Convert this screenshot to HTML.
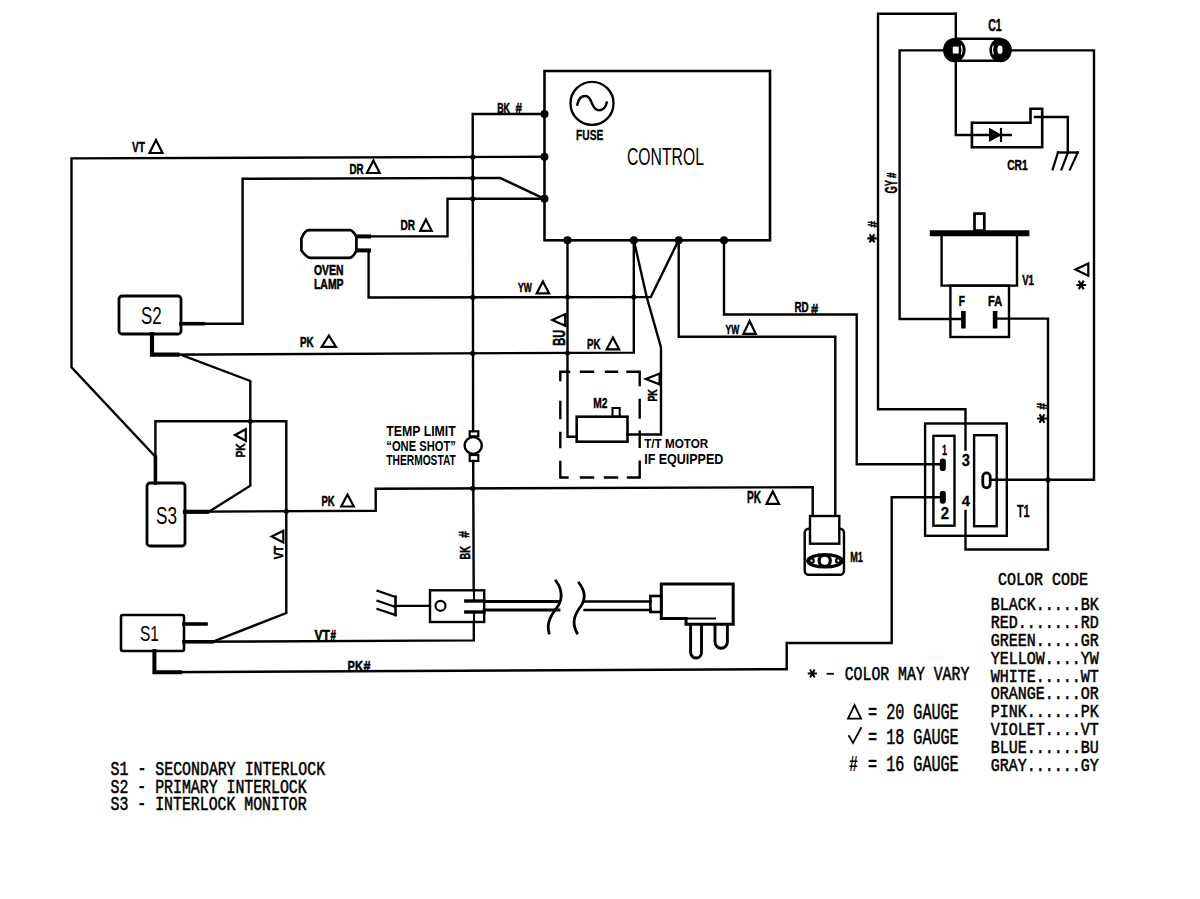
<!DOCTYPE html>
<html><head><meta charset="utf-8"><style>
html,body{margin:0;padding:0;background:#fff;width:1200px;height:899px;overflow:hidden;}
svg{display:block;}
text{fill:#000;}
</style></head><body>
<svg width="1200" height="899" viewBox="0 0 1200 899">
<rect width="1200" height="899" fill="#fff"/>
<path d="M544.5,156.8 L71.5,158.4 V367.4 L155.4,456.8 V483" fill="none" stroke="#000" stroke-width="2.4" stroke-linejoin="miter" stroke-linecap="square" />
<path d="M155.4,457 V483" fill="none" stroke="#000" stroke-width="3.6" stroke-linejoin="miter" stroke-linecap="square" />
<path d="M181,323.7 H242.6 V178.8 L500,177.9 L544.5,198.8" fill="none" stroke="#000" stroke-width="2.4" stroke-linejoin="miter" stroke-linecap="square" />
<path d="M181,323.7 H203" fill="none" stroke="#000" stroke-width="3.6" stroke-linejoin="miter" stroke-linecap="square" />
<path d="M152,334 V354.7 L633.8,352.6 V240" fill="none" stroke="#000" stroke-width="2.4" stroke-linejoin="miter" stroke-linecap="square" />
<path d="M152,334 V354.7 H177.5" fill="none" stroke="#000" stroke-width="4.2" stroke-linejoin="miter" stroke-linecap="square" />
<path d="M183,355.5 L250.3,381 V485.7 L209,511.7" fill="none" stroke="#000" stroke-width="2.4" stroke-linejoin="miter" stroke-linecap="square" />
<path d="M155.4,457 V421.2 H286.3 V613 L213.6,641.5" fill="none" stroke="#000" stroke-width="2.4" stroke-linejoin="miter" stroke-linecap="square" />
<path d="M185,511.8 L375.7,510.7 V488.7 L812.7,487.2 V516" fill="none" stroke="#000" stroke-width="2.4" stroke-linejoin="miter" stroke-linecap="square" />
<path d="M185,511.8 H207" fill="none" stroke="#000" stroke-width="4.2" stroke-linejoin="miter" stroke-linecap="square" />
<path d="M184,624 H206" fill="none" stroke="#000" stroke-width="3.6" stroke-linejoin="miter" stroke-linecap="square" />
<path d="M184,641.8 L473.8,640.4 V622" fill="none" stroke="#000" stroke-width="2.4" stroke-linejoin="miter" stroke-linecap="square" />
<path d="M184,641.8 H212" fill="none" stroke="#000" stroke-width="3.6" stroke-linejoin="miter" stroke-linecap="square" />
<path d="M154.4,651 V672.2 L786.7,669.2 V643 H891.7 V497.2 H942" fill="none" stroke="#000" stroke-width="2.4" stroke-linejoin="miter" stroke-linecap="square" />
<path d="M154.4,651 V672.2 H180" fill="none" stroke="#000" stroke-width="4" stroke-linejoin="miter" stroke-linecap="square" />
<path d="M357,236.4 H447.5 V198.8 H544.5" fill="none" stroke="#000" stroke-width="2.4" stroke-linejoin="miter" stroke-linecap="square" />
<path d="M357,236.4 H369" fill="none" stroke="#000" stroke-width="4" stroke-linejoin="miter" stroke-linecap="square" />
<path d="M357,250.4 H368.6 V297.5 L650.8,297 L678.7,240" fill="none" stroke="#000" stroke-width="2.4" stroke-linejoin="miter" stroke-linecap="square" />
<path d="M357,250.4 H369" fill="none" stroke="#000" stroke-width="4" stroke-linejoin="miter" stroke-linecap="square" />
<path d="M544.5,114 H472.7 L473.1,431" fill="none" stroke="#000" stroke-width="2.4" stroke-linejoin="miter" stroke-linecap="square" />
<path d="M473.2,461 L473.7,590" fill="none" stroke="#000" stroke-width="2.4" stroke-linejoin="miter" stroke-linecap="square" />
<path d="M567.5,240 V436.7 H576.7" fill="none" stroke="#000" stroke-width="2.4" stroke-linejoin="miter" stroke-linecap="square" />
<path d="M633.8,240 L646.7,297 L661,347.3 V434.5 H627.5" fill="none" stroke="#000" stroke-width="2.4" stroke-linejoin="miter" stroke-linecap="square" />
<path d="M678.7,240 V336.7 H835.3 V516" fill="none" stroke="#000" stroke-width="2.4" stroke-linejoin="miter" stroke-linecap="square" />
<path d="M724,240 V314.5 H856.7 V464.3 H942" fill="none" stroke="#000" stroke-width="2.4" stroke-linejoin="miter" stroke-linecap="square" />
<rect x="544.5" y="71" width="225.5" height="169.3" fill="none" stroke="#000" stroke-width="2.6"/>
<circle cx="544.5" cy="114" r="4" fill="#000"/>
<circle cx="544.5" cy="156.8" r="4" fill="#000"/>
<circle cx="544.5" cy="198.8" r="4" fill="#000"/>
<circle cx="567.5" cy="240.3" r="4" fill="#000"/>
<circle cx="633.8" cy="240.3" r="4" fill="#000"/>
<circle cx="678.7" cy="240.3" r="4" fill="#000"/>
<circle cx="724" cy="240.3" r="4" fill="#000"/>
<circle cx="472.8" cy="157.05" r="2.6" fill="#000"/>
<circle cx="472.8" cy="178.0" r="2.6" fill="#000"/>
<circle cx="472.8" cy="198.8" r="2.6" fill="#000"/>
<circle cx="472.8" cy="297.3" r="2.6" fill="#000"/>
<circle cx="472.8" cy="353.3" r="2.6" fill="#000"/>
<circle cx="472.8" cy="488.4" r="2.6" fill="#000"/>
<circle cx="567.5" cy="297.1" r="2.5" fill="#000"/>
<circle cx="567.5" cy="352.9" r="2.5" fill="#000"/>
<circle cx="633.8" cy="297" r="2.5" fill="#000"/>
<circle cx="250.3" cy="421.2" r="2.5" fill="#000"/>
<circle cx="286.3" cy="511.2" r="2.5" fill="#000"/>
<circle cx="1048" cy="479.8" r="2.6" fill="#000"/>
<circle cx="592" cy="103.4" r="21.5" fill="none" stroke="#000" stroke-width="2.4"/>
<path d="M577.3,104.5 C578.5,98 582,96 585.5,96 C589.5,96 590.5,100 592,103.5 C593.5,107 595,110.3 599,110.3 C603,110.3 606,107 606.7,102.5" fill="none" stroke="#000" stroke-width="2.4" stroke-linejoin="miter" stroke-linecap="square" stroke-linecap="round"/>
<text x="576.0" y="139.5" font-size="14.53" font-weight="bold" font-family="Liberation Sans" textLength="27.3" lengthAdjust="spacingAndGlyphs" stroke="#000" stroke-width="0.3">FUSE</text>
<text x="627.0" y="165.0" font-size="23.26" font-weight="normal" font-family="Liberation Sans" textLength="77.0" lengthAdjust="spacingAndGlyphs" >CONTROL</text>
<path d="M309,230.2 H350 Q352.5,230.2 356.4,236.5 V250.5 Q353,257.9 349,257.9 H310.5 Q307,257.9 301.4,250.5 V238.5 Q305,230.2 309,230.2 Z" fill="none" stroke="#000" stroke-width="2.7" stroke-linejoin="round"/>
<text x="314.0" y="274.7" font-size="15.26" font-weight="bold" font-family="Liberation Sans" textLength="29.5" lengthAdjust="spacingAndGlyphs" stroke="#000" stroke-width="0.6">OVEN</text>
<text x="314.0" y="289.0" font-size="15.26" font-weight="bold" font-family="Liberation Sans" textLength="29.5" lengthAdjust="spacingAndGlyphs" stroke="#000" stroke-width="0.6">LAMP</text>
<rect x="119" y="296" width="62" height="38" rx="3" fill="none" stroke="#000" stroke-width="2.8"/>
<text x="141.0" y="323.7" font-size="23.55" font-weight="normal" font-family="Liberation Sans" textLength="20.7" lengthAdjust="spacingAndGlyphs" >S2</text>
<rect x="147" y="483" width="38" height="63" rx="3" fill="none" stroke="#000" stroke-width="2.8"/>
<text x="156.0" y="524.0" font-size="23.26" font-weight="normal" font-family="Liberation Sans" textLength="21.0" lengthAdjust="spacingAndGlyphs" >S3</text>
<rect x="121" y="615" width="63" height="36" rx="2" fill="none" stroke="#000" stroke-width="2.6"/>
<text x="140.0" y="640.7" font-size="22.82" font-weight="normal" font-family="Liberation Sans" textLength="19.0" lengthAdjust="spacingAndGlyphs" >S1</text>
<rect x="469.7" y="431.3" width="8.6" height="5" fill="none" stroke="#000" stroke-width="2.2"/>
<ellipse cx="473.2" cy="445.5" rx="8.6" ry="8.4" fill="none" stroke="#000" stroke-width="2.4"/>
<rect x="469.7" y="455" width="8.6" height="6" fill="none" stroke="#000" stroke-width="2.2"/>
<text x="386.3" y="435.8" font-size="14.24" font-weight="bold" font-family="Liberation Sans" textLength="69.5" lengthAdjust="spacingAndGlyphs" >TEMP LIMIT</text>
<text x="386.3" y="450.8" font-size="14.24" font-weight="bold" font-family="Liberation Sans" textLength="69.5" lengthAdjust="spacingAndGlyphs" >&#8220;ONE SHOT&#8221;</text>
<text x="386.3" y="465.0" font-size="13.81" font-weight="bold" font-family="Liberation Sans" textLength="69.5" lengthAdjust="spacingAndGlyphs" >THERMOSTAT</text>
<path d="M560.3,380 V371.7 H569 M581,371.7 H593 M606,371.7 H617 M627.5,371.7 H639.7 V385 M560.3,402 V418 M560.3,433 V447 M560.3,462 V477.5 H567.5 M581,477.5 H593 M605,477.5 H617 M628,477.5 H639.7 V461.7 M639.7,400 V417.5 M639.7,431.7 V446.7" fill="none" stroke="#000" stroke-width="2.4" stroke-linejoin="miter" stroke-linecap="square" stroke-linecap="butt"/>
<rect x="576.7" y="416.7" width="50.8" height="25" fill="none" stroke="#000" stroke-width="2.6"/>
<rect x="612.5" y="408" width="7.2" height="8.7" fill="none" stroke="#000" stroke-width="2"/>
<text x="593.3" y="408.3" font-size="14.97" font-weight="bold" font-family="Liberation Sans" textLength="14.2" lengthAdjust="spacingAndGlyphs" stroke="#000" stroke-width="0.4">M2</text>
<text x="644.2" y="447.5" font-size="13.37" font-weight="bold" font-family="Liberation Sans" textLength="64.1" lengthAdjust="spacingAndGlyphs" >T/T MOTOR</text>
<text x="644.2" y="464.2" font-size="14.53" font-weight="bold" font-family="Liberation Sans" textLength="79.1" lengthAdjust="spacingAndGlyphs" >IF EQUIPPED</text>
<rect x="430" y="590.3" width="54.2" height="31.7" fill="none" stroke="#000" stroke-width="2.4"/>
<path d="M474,590.3 V601 M474,612 V622" fill="none" stroke="#000" stroke-width="2" stroke-linejoin="miter" stroke-linecap="square" stroke-linecap="butt"/>
<circle cx="440.5" cy="605.8" r="5" fill="none" stroke="#000" stroke-width="2.2"/>
<path d="M465.8,601 H484" fill="none" stroke="#000" stroke-width="3.4" stroke-linejoin="miter" stroke-linecap="square" />
<path d="M465.8,612 H484" fill="none" stroke="#000" stroke-width="3.4" stroke-linejoin="miter" stroke-linecap="square" />
<path d="M484,601.5 H559 M484,610 H559" fill="none" stroke="#000" stroke-width="2.8" stroke-linejoin="miter" stroke-linecap="square" stroke-linecap="butt"/>
<path d="M584.6,601.5 H650.4 M584.6,610 H650.4" fill="none" stroke="#000" stroke-width="2.6" stroke-linejoin="miter" stroke-linecap="square" stroke-linecap="butt"/>
<path d="M556,581 C563,590 562,600 558,606 C552,614 546,622 549,633" fill="none" stroke="#000" stroke-width="2.8" stroke-linejoin="miter" stroke-linecap="square" stroke-linecap="round"/>
<path d="M579,583 C586,592 585,600 581,606 C575,614 571,622 577,633" fill="none" stroke="#000" stroke-width="2.8" stroke-linejoin="miter" stroke-linecap="square" stroke-linecap="round"/>
<rect x="650.4" y="596" width="10.9" height="16" fill="none" stroke="#000" stroke-width="2.6"/>
<path d="M661.3,584 H733.2 V624.2 H686 V618.5 H661.3 Z" fill="none" stroke="#000" stroke-width="3"/>
<path d="M686,618.5 H715" fill="none" stroke="#000" stroke-width="2.2" stroke-linejoin="miter" stroke-linecap="square" />
<path d="M690.6,624 V652.5 A5.45,5.45 0 0 0 701.5,652.5 V624" fill="none" stroke="#000" stroke-width="2.9"/>
<path d="M715,624 V642 A6.2,6.2 0 0 0 727.4,642 V624" fill="none" stroke="#000" stroke-width="2.9"/>
<path d="M395.5,605.8 H430" fill="none" stroke="#000" stroke-width="2.2" stroke-linejoin="miter" stroke-linecap="square" />
<path d="M395.5,596.7 V615" fill="none" stroke="#000" stroke-width="2.6" stroke-linejoin="miter" stroke-linecap="square" />
<path d="M377.5,590.8 L395.5,597 M377.5,600.8 L395.5,607 M377.5,609 L395.5,615" fill="none" stroke="#000" stroke-width="2.2" stroke-linejoin="miter" stroke-linecap="square" />
<rect x="804.7" y="528.7" width="39.3" height="46" rx="4" fill="none" stroke="#000" stroke-width="2.4"/>
<rect x="810" y="516" width="29.3" height="27.7" fill="#fff" stroke="#000" stroke-width="2.4"/>
<ellipse cx="825" cy="560.8" rx="17.3" ry="6.2" fill="none" stroke="#000" stroke-width="3.2"/>
<circle cx="824.7" cy="560.7" r="5.6" fill="#fff" stroke="#000" stroke-width="3.2"/>
<circle cx="811.5" cy="560.7" r="2.2" fill="none" stroke="#000" stroke-width="2.2"/>
<circle cx="838.3" cy="560.7" r="2.2" fill="none" stroke="#000" stroke-width="2.2"/>
<text x="850.2" y="561.7" font-size="15.55" font-weight="bold" font-family="Liberation Sans" textLength="12.7" lengthAdjust="spacingAndGlyphs" stroke="#000" stroke-width="0.4">M1</text>
<path d="M955.8,13.75 H878 V409.3 H965.5 V449.5" fill="none" stroke="#000" stroke-width="2.4" stroke-linejoin="miter" stroke-linecap="square" />
<path d="M943.75,50.4 H899.6 V319 H963" fill="none" stroke="#000" stroke-width="2.4" stroke-linejoin="miter" stroke-linecap="square" />
<path d="M1011.7,50.4 H1094 V479.8 H990" fill="none" stroke="#000" stroke-width="2.4" stroke-linejoin="miter" stroke-linecap="square" />
<path d="M995,318.6 H1048 V549.5 H965.5 V511" fill="none" stroke="#000" stroke-width="2.4" stroke-linejoin="miter" stroke-linecap="square" />
<path d="M955.8,62 V135 H1010.7" fill="none" stroke="#000" stroke-width="2.4" stroke-linejoin="miter" stroke-linecap="square" />
<path d="M955.8,13.75 V40" fill="none" stroke="#000" stroke-width="2.4" stroke-linejoin="miter" stroke-linecap="square" />
<path d="M954.6,38.75 H1000.8 M954.6,60.8 H1000.8" stroke="#000" stroke-width="2.4"/>
<ellipse cx="954.3" cy="50.1" rx="11.3" ry="12.2" fill="#000"/>
<rect x="952.8" y="46.6" width="5.9" height="6.9" fill="#fff"/>
<path d="M961.2,45.5 Q963,50 961.2,54.5" fill="none" stroke="#fff" stroke-width="1.1"/>
<ellipse cx="1000.6" cy="50.1" rx="11.2" ry="12.2" fill="#000"/>
<ellipse cx="1000" cy="49.8" rx="2.6" ry="4.3" fill="#fff"/>
<path d="M993.4,45.5 Q991.6,50 993.4,54.5" fill="none" stroke="#fff" stroke-width="1.1"/>
<text x="988.3" y="30.8" font-size="16.28" font-weight="bold" font-family="Liberation Sans" textLength="13.4" lengthAdjust="spacingAndGlyphs" stroke="#000" stroke-width="0.5">C1</text>
<path d="M971.9,122.75 H1030.5 V108.75 H1042.2 V147.3 H971.9 Z" fill="none" stroke="#000" stroke-width="2.6"/>
<path d="M1035,117 H1067.8 V152.5" fill="none" stroke="#000" stroke-width="2.4" stroke-linejoin="miter" stroke-linecap="square" />
<path d="M1058,152.5 H1077.8" fill="none" stroke="#000" stroke-width="2.4" stroke-linejoin="miter" stroke-linecap="square" />
<path d="M1058,152.5 L1052.7,169.4 M1068,152.5 L1061.5,169.4 M1077.8,152.5 L1070,169.4" fill="none" stroke="#000" stroke-width="2.2" stroke-linejoin="miter" stroke-linecap="square" />
<path d="M989.7,129 L1000.2,135 L989.7,140.8 Z" fill="#000" stroke="#000" stroke-width="1.5"/>
<path d="M1001,129 V141" fill="none" stroke="#000" stroke-width="2.2" stroke-linejoin="miter" stroke-linecap="square" />
<text x="1007.2" y="170.0" font-size="15.26" font-weight="bold" font-family="Liberation Sans" textLength="20.4" lengthAdjust="spacingAndGlyphs" stroke="#000" stroke-width="0.5">CR1</text>
<rect x="974.5" y="213.6" width="9.8" height="17" fill="none" stroke="#000" stroke-width="2.7"/>
<path d="M932.8,233.2 H1026.4" fill="none" stroke="#000" stroke-width="6" stroke-linejoin="miter" stroke-linecap="square" stroke-linecap="butt"/>
<path d="M941.6,233 V285.6 H1017 V233" fill="none" stroke="#000" stroke-width="2.4"/>
<rect x="950.4" y="285.6" width="58.6" height="51.4" fill="none" stroke="#000" stroke-width="2.4"/>
<path d="M963.4,313.2 V326.2" fill="none" stroke="#000" stroke-width="4.6" stroke-linejoin="miter" stroke-linecap="square" stroke-linecap="butt"/>
<path d="M995.1,313.2 V326.2" fill="none" stroke="#000" stroke-width="4.6" stroke-linejoin="miter" stroke-linecap="square" stroke-linecap="butt"/>
<text x="958.8" y="305.5" font-size="14.53" font-weight="bold" font-family="Liberation Sans" textLength="6.2" lengthAdjust="spacingAndGlyphs" stroke="#000" stroke-width="0.5">F</text>
<text x="988.1" y="305.5" font-size="14.53" font-weight="bold" font-family="Liberation Sans" textLength="14.0" lengthAdjust="spacingAndGlyphs" stroke="#000" stroke-width="0.5">FA</text>
<text x="1022.2" y="285.1" font-size="14.68" font-weight="bold" font-family="Liberation Sans" textLength="11.8" lengthAdjust="spacingAndGlyphs" stroke="#000" stroke-width="0.5">V1</text>
<rect x="925.1" y="423.5" width="81.7" height="112.3" fill="none" stroke="#000" stroke-width="2.4"/>
<rect x="933.4" y="435.8" width="21.1" height="89.9" fill="none" stroke="#000" stroke-width="2.4"/>
<rect x="974.1" y="435.2" width="22.6" height="91" fill="none" stroke="#000" stroke-width="2.4"/>
<rect x="939.8" y="458.5" width="6" height="12.5" rx="2.8" fill="#000"/>
<rect x="939.8" y="490.8" width="6" height="13" rx="2.8" fill="#000"/>
<rect x="982.8" y="472.8" width="7.4" height="15" rx="3.7" fill="#fff" stroke="#000" stroke-width="2.8"/>
<text x="942.0" y="455.0" font-size="14.53" font-weight="bold" font-family="Liberation Sans" textLength="5.0" lengthAdjust="spacingAndGlyphs" stroke="#000" stroke-width="0.3">1</text>
<text x="940.7" y="519.3" font-size="15.99" font-weight="bold" font-family="Liberation Sans" textLength="8.3" lengthAdjust="spacingAndGlyphs" stroke="#000" stroke-width="0.3">2</text>
<text x="961.8" y="466.0" font-size="15.99" font-weight="bold" font-family="Liberation Sans" textLength="8.2" lengthAdjust="spacingAndGlyphs" stroke="#000" stroke-width="0.3">3</text>
<text x="961.8" y="505.5" font-size="14.68" font-weight="bold" font-family="Liberation Sans" textLength="8.2" lengthAdjust="spacingAndGlyphs" stroke="#000" stroke-width="0.3">4</text>
<text x="1016.9" y="517.4" font-size="15.99" font-weight="bold" font-family="Liberation Sans" textLength="12.8" lengthAdjust="spacingAndGlyphs" stroke="#000" stroke-width="0.3">T1</text>
<text x="132.0" y="151.5" font-size="15.26" font-weight="bold" font-family="Liberation Sans" textLength="13.0" lengthAdjust="spacingAndGlyphs" stroke="#000" stroke-width="0.5">VT</text>
<path d="M156.0,140.0 L162.5,153.0 L149.5,153.0 Z" fill="none" stroke="#000" stroke-width="2.2" stroke-linejoin="miter"/>
<text x="349.5" y="174.0" font-size="15.26" font-weight="bold" font-family="Liberation Sans" textLength="14.1" lengthAdjust="spacingAndGlyphs" stroke="#000" stroke-width="0.5">DR</text>
<path d="M373.4,160.5 L379.7,173.0 L367.0,173.0 Z" fill="none" stroke="#000" stroke-width="2.2" stroke-linejoin="miter"/>
<text x="400.5" y="230.0" font-size="15.26" font-weight="bold" font-family="Liberation Sans" textLength="14.6" lengthAdjust="spacingAndGlyphs" stroke="#000" stroke-width="0.5">DR</text>
<path d="M425.9,219.5 L431.7,230.8 L420.2,230.8 Z" fill="none" stroke="#000" stroke-width="2.2" stroke-linejoin="miter"/>
<text x="497.2" y="112.5" font-size="14.53" font-weight="bold" font-family="Liberation Sans" textLength="12.8" lengthAdjust="spacingAndGlyphs" stroke="#000" stroke-width="0.5">BK</text>
<text x="515.5" y="113.0" font-size="15.26" font-weight="bold" font-family="Liberation Sans" textLength="6.5" lengthAdjust="spacingAndGlyphs" stroke="#000" stroke-width="0.5">#</text>
<text x="300.0" y="346.7" font-size="14.10" font-weight="bold" font-family="Liberation Sans" textLength="13.7" lengthAdjust="spacingAndGlyphs" stroke="#000" stroke-width="0.5">PK</text>
<path d="M328.9,335.5 L336.0,346.8 L321.7,346.8 Z" fill="none" stroke="#000" stroke-width="2.2" stroke-linejoin="miter"/>
<text x="518.0" y="292.3" font-size="12.79" font-weight="bold" font-family="Liberation Sans" textLength="13.8" lengthAdjust="spacingAndGlyphs" stroke="#000" stroke-width="0.5">YW</text>
<path d="M542.9,281.5 L549.1,293.4 L536.7,293.4 Z" fill="none" stroke="#000" stroke-width="2.2" stroke-linejoin="miter"/>
<text x="587.1" y="349.0" font-size="15.26" font-weight="bold" font-family="Liberation Sans" textLength="13.4" lengthAdjust="spacingAndGlyphs" stroke="#000" stroke-width="0.5">PK</text>
<path d="M612.9,337.5 L619.1,349.3 L606.7,349.3 Z" fill="none" stroke="#000" stroke-width="2.2" stroke-linejoin="miter"/>
<text x="321.5" y="505.7" font-size="14.83" font-weight="bold" font-family="Liberation Sans" textLength="13.2" lengthAdjust="spacingAndGlyphs" stroke="#000" stroke-width="0.5">PK</text>
<path d="M347.5,494.5 L353.8,506.5 L341.2,506.5 Z" fill="none" stroke="#000" stroke-width="2.2" stroke-linejoin="miter"/>
<text x="725.6" y="333.5" font-size="13.23" font-weight="bold" font-family="Liberation Sans" textLength="13.7" lengthAdjust="spacingAndGlyphs" stroke="#000" stroke-width="0.5">YW</text>
<path d="M749.6,321.0 L755.8,333.8 L743.4,333.8 Z" fill="none" stroke="#000" stroke-width="2.2" stroke-linejoin="miter"/>
<text x="747.0" y="502.7" font-size="15.84" font-weight="bold" font-family="Liberation Sans" textLength="14.0" lengthAdjust="spacingAndGlyphs" stroke="#000" stroke-width="0.5">PK</text>
<path d="M772.8,491.5 L779.0,503.8 L766.5,503.8 Z" fill="none" stroke="#000" stroke-width="2.2" stroke-linejoin="miter"/>
<text x="794.4" y="312.0" font-size="14.68" font-weight="bold" font-family="Liberation Sans" textLength="14.2" lengthAdjust="spacingAndGlyphs" stroke="#000" stroke-width="0.5">RD</text>
<text x="811.0" y="314.0" font-size="14.24" font-weight="bold" font-family="Liberation Sans" textLength="7.2" lengthAdjust="spacingAndGlyphs" stroke="#000" stroke-width="0.5">#</text>
<text x="314.5" y="639.5" font-size="14.53" font-weight="bold" font-family="Liberation Sans" textLength="15.5" lengthAdjust="spacingAndGlyphs" stroke="#000" stroke-width="0.5">VT</text>
<text x="330.5" y="639.5" font-size="13.81" font-weight="bold" font-family="Liberation Sans" textLength="5.5" lengthAdjust="spacingAndGlyphs" stroke="#000" stroke-width="0.5">#</text>
<text x="347.5" y="670.5" font-size="14.53" font-weight="bold" font-family="Liberation Sans" textLength="15.5" lengthAdjust="spacingAndGlyphs" stroke="#000" stroke-width="0.5">PK</text>
<text x="363.5" y="670.5" font-size="13.81" font-weight="bold" font-family="Liberation Sans" textLength="7.0" lengthAdjust="spacingAndGlyphs" stroke="#000" stroke-width="0.5">#</text>
<text transform="translate(564.7,345.7) rotate(-90)" x="0" y="0" font-size="16.13" font-weight="bold" font-family="Liberation Sans" textLength="16.0" lengthAdjust="spacingAndGlyphs" stroke="#000" stroke-width="0.5">BU</text>
<path d="M552.3,319.9 L565.2,314.1 L565.2,325.7 Z" fill="none" stroke="#000" stroke-width="2.2"/>
<text transform="translate(657.4,401.6) rotate(-90)" x="0" y="0" font-size="13.66" font-weight="bold" font-family="Liberation Sans" textLength="12.4" lengthAdjust="spacingAndGlyphs" stroke="#000" stroke-width="0.5">PK</text>
<path d="M645.8,379.0 L659.6,373.6 L659.6,384.3 Z" fill="none" stroke="#000" stroke-width="2.2"/>
<text transform="translate(245.0,457.5) rotate(-90)" x="0" y="0" font-size="13.37" font-weight="bold" font-family="Liberation Sans" textLength="14.2" lengthAdjust="spacingAndGlyphs" stroke="#000" stroke-width="0.5">PK</text>
<path d="M235.0,435.0 L245.8,429.2 L245.8,440.8 Z" fill="none" stroke="#000" stroke-width="2.2"/>
<text transform="translate(282.5,559.2) rotate(-90)" x="0" y="0" font-size="13.37" font-weight="bold" font-family="Liberation Sans" textLength="13.4" lengthAdjust="spacingAndGlyphs" stroke="#000" stroke-width="0.5">VT</text>
<path d="M271.7,536.6 L283.3,530.8 L283.3,542.5 Z" fill="none" stroke="#000" stroke-width="2.2"/>
<text transform="translate(469.7,559.4) rotate(-90)" x="0" y="0" font-size="15.26" font-weight="bold" font-family="Liberation Sans" textLength="13.3" lengthAdjust="spacingAndGlyphs" stroke="#000" stroke-width="0.5">BK</text>
<text transform="translate(469.4,537.8) rotate(-90)" x="0" y="0" font-size="14.53" font-weight="bold" font-family="Liberation Sans" textLength="6.7" lengthAdjust="spacingAndGlyphs" stroke="#000" stroke-width="0.5">#</text>
<text transform="translate(896.5,193.5) rotate(-90)" x="0" y="0" font-size="15.99" font-weight="bold" font-family="Liberation Sans" textLength="13.5" lengthAdjust="spacingAndGlyphs" stroke="#000" stroke-width="0.5">GY</text>
<text transform="translate(896.0,178.0) rotate(-90)" x="0" y="0" font-size="13.08" font-weight="bold" font-family="Liberation Sans" textLength="5.5" lengthAdjust="spacingAndGlyphs" stroke="#000" stroke-width="0.5">#</text>
<text transform="translate(877.0,227.5) rotate(-90)" x="0" y="0" font-size="13.08" font-weight="bold" font-family="Liberation Sans" textLength="6.5" lengthAdjust="spacingAndGlyphs" stroke="#000" stroke-width="0.5">#</text>
<path d="M868.4,238.3 L875.6,238.3 M870.2,235.2 L873.8,241.4 M873.8,235.2 L870.2,241.4 " fill="none" stroke="#000" stroke-width="2.2" stroke-linejoin="miter" stroke-linecap="square" stroke-linecap="butt"/>
<path d="M1075.5,269.5 L1088.3,263.4 L1088.3,275.7 Z" fill="none" stroke="#000" stroke-width="2.2"/>
<path d="M1077.4,285.0 L1085.0,285.0 M1079.3,281.7 L1083.1,288.3 M1083.1,281.7 L1079.3,288.3 " fill="none" stroke="#000" stroke-width="2.2" stroke-linejoin="miter" stroke-linecap="square" stroke-linecap="butt"/>
<text transform="translate(1047.0,409.6) rotate(-90)" x="0" y="0" font-size="14.53" font-weight="bold" font-family="Liberation Sans" textLength="6.6" lengthAdjust="spacingAndGlyphs" stroke="#000" stroke-width="0.5">#</text>
<path d="M1038.2,418.5 L1045.8,418.5 M1040.1,415.2 L1043.9,421.8 M1043.9,415.2 L1040.1,421.8 " fill="none" stroke="#000" stroke-width="2.2" stroke-linejoin="miter" stroke-linecap="square" stroke-linecap="butt"/>
<text x="997.9" y="585.3" font-size="18.21" font-weight="normal" font-family="Liberation Mono" textLength="90.1" lengthAdjust="spacingAndGlyphs" stroke="#000" stroke-width="0.55">COLOR CODE</text>
<text x="990.7" y="610.1" font-size="18.51" font-weight="normal" font-family="Liberation Mono" textLength="108.0" lengthAdjust="spacingAndGlyphs" stroke="#000" stroke-width="0.55">BLACK.....BK</text>
<text x="990.7" y="628.0" font-size="18.51" font-weight="normal" font-family="Liberation Mono" textLength="108.0" lengthAdjust="spacingAndGlyphs" stroke="#000" stroke-width="0.55">RED.......RD</text>
<text x="990.7" y="645.8" font-size="18.51" font-weight="normal" font-family="Liberation Mono" textLength="108.0" lengthAdjust="spacingAndGlyphs" stroke="#000" stroke-width="0.55">GREEN.....GR</text>
<text x="990.7" y="663.6" font-size="18.51" font-weight="normal" font-family="Liberation Mono" textLength="108.0" lengthAdjust="spacingAndGlyphs" stroke="#000" stroke-width="0.55">YELLOW....YW</text>
<text x="990.7" y="681.5" font-size="18.51" font-weight="normal" font-family="Liberation Mono" textLength="108.0" lengthAdjust="spacingAndGlyphs" stroke="#000" stroke-width="0.55">WHITE.....WT</text>
<text x="990.7" y="699.4" font-size="18.51" font-weight="normal" font-family="Liberation Mono" textLength="108.0" lengthAdjust="spacingAndGlyphs" stroke="#000" stroke-width="0.55">ORANGE....OR</text>
<text x="990.7" y="717.2" font-size="18.51" font-weight="normal" font-family="Liberation Mono" textLength="108.0" lengthAdjust="spacingAndGlyphs" stroke="#000" stroke-width="0.55">PINK......PK</text>
<text x="990.7" y="735.1" font-size="18.51" font-weight="normal" font-family="Liberation Mono" textLength="108.0" lengthAdjust="spacingAndGlyphs" stroke="#000" stroke-width="0.55">VIOLET....VT</text>
<text x="990.7" y="752.9" font-size="18.51" font-weight="normal" font-family="Liberation Mono" textLength="108.0" lengthAdjust="spacingAndGlyphs" stroke="#000" stroke-width="0.55">BLUE......BU</text>
<text x="990.7" y="770.8" font-size="18.51" font-weight="normal" font-family="Liberation Mono" textLength="108.0" lengthAdjust="spacingAndGlyphs" stroke="#000" stroke-width="0.55">GRAY......GY</text>
<path d="M808.7,673.5 L815.9,673.5 M810.5,670.4 L814.1,676.6 M814.1,670.4 L810.5,676.6 " fill="none" stroke="#000" stroke-width="1.9" stroke-linejoin="miter" stroke-linecap="square" stroke-linecap="butt"/>
<path d="M827.5,673.8 H833" fill="none" stroke="#000" stroke-width="1.8" stroke-linejoin="miter" stroke-linecap="square" stroke-linecap="butt"/>
<text x="844.7" y="679.5" font-size="19.42" font-weight="normal" font-family="Liberation Mono" textLength="124.6" lengthAdjust="spacingAndGlyphs" stroke="#000" stroke-width="0.55">COLOR MAY VARY</text>
<path d="M854.5,705.0 L861.0,718.7 L848.0,718.7 Z" fill="none" stroke="#000" stroke-width="1.8" stroke-linejoin="miter"/>
<text x="868.0" y="718.7" font-size="22.31" font-weight="normal" font-family="Liberation Mono" textLength="90.7" lengthAdjust="spacingAndGlyphs" stroke="#000" stroke-width="0.55">= 20 GAUGE</text>
<path d="M849,736 L853,743 L861,728" fill="none" stroke="#000" stroke-width="1.8" stroke-linejoin="miter" stroke-linecap="square" stroke-linecap="butt"/>
<text x="868.0" y="744.0" font-size="22.76" font-weight="normal" font-family="Liberation Mono" textLength="90.7" lengthAdjust="spacingAndGlyphs" stroke="#000" stroke-width="0.55">= 18 GAUGE</text>
<text x="849.0" y="770.7" font-size="22.31" font-weight="bold" font-family="Liberation Mono" textLength="9.0" lengthAdjust="spacingAndGlyphs" >#</text>
<text x="868.0" y="770.7" font-size="22.31" font-weight="normal" font-family="Liberation Mono" textLength="90.7" lengthAdjust="spacingAndGlyphs" stroke="#000" stroke-width="0.55">= 16 GAUGE</text>
<text x="110.6" y="774.7" font-size="19.73" font-weight="normal" font-family="Liberation Mono" textLength="214.5" lengthAdjust="spacingAndGlyphs" stroke="#000" stroke-width="0.55">S1 - SECONDARY INTERLOCK</text>
<text x="110.6" y="793.0" font-size="19.73" font-weight="normal" font-family="Liberation Mono" textLength="196.1" lengthAdjust="spacingAndGlyphs" stroke="#000" stroke-width="0.55">S2 - PRIMARY INTERLOCK</text>
<text x="110.6" y="810.4" font-size="19.73" font-weight="normal" font-family="Liberation Mono" textLength="196.1" lengthAdjust="spacingAndGlyphs" stroke="#000" stroke-width="0.55">S3 - INTERLOCK MONITOR</text>
</svg>
</body></html>
